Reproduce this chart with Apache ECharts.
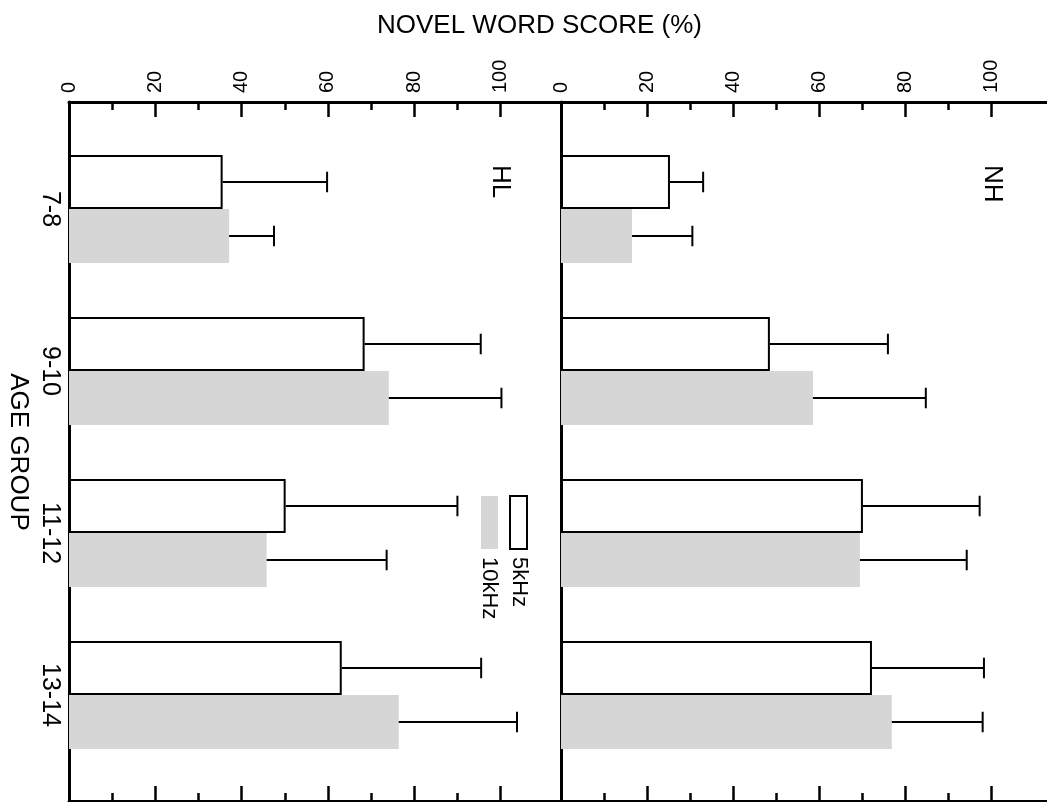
<!DOCTYPE html>
<html><head><meta charset="utf-8">
<script src="https://cdn.jsdelivr.net/npm/echarts@6/dist/echarts.min.js"></script>
<style>html,body{margin:0;padding:0;background:#fff}#c{width:1047px;height:802px}</style>
</head><body><div id="c"></div>
<script>
// ---------- data ----------
const categories = ['7-8', '9-10', '11-12', '13-14'];
const seriesNames = ['5kHz', '10kHz'];
const panelNames = ['HL', 'NH'];
const hl5kMean = [35.6, 68.5, 50.2, 63.2];
const hl5kSD   = [24.2, 26.9, 39.8, 32.3];
const hl10kMean = [37.1, 74.1, 45.8, 76.4];
const hl10kSD   = [10.4, 26.1, 27.8, 27.4];
const nh5kMean = [25.3, 48.5, 70.1, 72.2];
const nh5kSD   = [7.7, 27.4, 27.1, 26.0];
const nh10kMean = [16.5, 58.5, 69.4, 76.8];
const nh10kSD   = [14.0, 26.2, 24.8, 21.1];
const tickValues = [0, 20, 40, 60, 80, 100];
const minorTickValues = [10, 30, 50, 70, 90];
const valueAxisTitle = 'NOVEL WORD SCORE (%)';
const categoryAxisTitle = 'AGE GROUP';

// ---------- style ----------
const FONT = 'Liberation Sans';
const GRAY = '#d6d6d6';
const AXMAX = 114;
const GAP = 0.333;

const panels = [
  { name: panelNames[0], left: 69, width: 492, mean: [hl5kMean, hl10kMean], sd: [hl5kSD, hl10kSD], catLabels: true },
  { name: panelNames[1], left: 561, width: 491, mean: [nh5kMean, nh10kMean], sd: [nh5kSD, nh10kSD], catLabels: false }
];

const grid = [], xAxis = [], yAxis = [], series = [];

panels.forEach((p) => {
  const gA = grid.length;
  grid.push({ left: p.left, top: 102, width: p.width, height: 699, outerBoundsMode: 'none' });
  const gB = grid.length;
  grid.push({ left: p.left, top: 102, width: p.width, height: 699, outerBoundsMode: 'none' });
  const gC = grid.length;
  grid.push({ left: p.left, top: 128, width: p.width, height: 648, outerBoundsMode: 'none' });

  const base = { type: 'value', min: 0, max: AXMAX, splitLine: { show: false } };
  // major top with labels
  xAxis.push(Object.assign({}, base, {
    gridIndex: gA, position: 'top',
    axisLine: { show: true, onZero: false, lineStyle: { color: '#000', width: 3 } },
    axisTick: { show: true, inside: true, length: 15, customValues: tickValues, lineStyle: { color: '#000', width: 2.5 } },
    axisLabel: { show: true, customValues: tickValues, rotate: -90, margin: 9, fontSize: 20, color: '#000', fontFamily: FONT }
  }));
  // major bottom
  xAxis.push(Object.assign({}, base, {
    gridIndex: gA, position: 'bottom',
    axisLine: { show: true, onZero: false, lineStyle: { color: '#000', width: 3 } },
    axisTick: { show: true, inside: true, length: 15, customValues: tickValues, lineStyle: { color: '#000', width: 2.5 } },
    axisLabel: { show: false }
  }));
  // minor top / bottom
  xAxis.push(Object.assign({}, base, {
    gridIndex: gB, position: 'top',
    axisLine: { show: false, onZero: false },
    axisTick: { show: true, inside: true, length: 8, customValues: minorTickValues, lineStyle: { color: '#000', width: 2.5 } },
    axisLabel: { show: false }
  }));
  xAxis.push(Object.assign({}, base, {
    gridIndex: gB, position: 'bottom',
    axisLine: { show: false, onZero: false },
    axisTick: { show: true, inside: true, length: 8, customValues: minorTickValues, lineStyle: { color: '#000', width: 2.5 } },
    axisLabel: { show: false }
  }));
  const xBars = xAxis.length;
  xAxis.push(Object.assign({}, base, { gridIndex: gC, show: false, axisLine: { onZero: false } }));

  // frame vertical line
  yAxis.push({ type: 'value', gridIndex: gA, position: 'left', min: 0, max: 1,
    axisLine: { show: true, onZero: false, lineStyle: { color: '#000', width: 3 } },
    axisTick: { show: false }, axisLabel: { show: false }, splitLine: { show: false } });
  yAxis.push({ type: 'value', gridIndex: gB, show: false, min: 0, max: 1, axisLine: { onZero: false } });
  const yBars = yAxis.length;
  yAxis.push({ type: 'category', gridIndex: gC, data: categories, inverse: true,
    axisLine: { show: false, onZero: false }, axisTick: { show: false },
    axisLabel: { show: p.catLabels, rotate: -90, margin: 7, fontSize: 25, color: '#000', fontFamily: FONT },
    name: p.catLabels ? categoryAxisTitle : '', nameLocation: 'middle', nameRotate: -90, nameGap: 38,
    nameTextStyle: { fontSize: 26, color: '#000', fontFamily: FONT } });

  [0, 1].forEach((s) => {
    series.push({
      type: 'bar', name: seriesNames[s], xAxisIndex: xBars, yAxisIndex: yBars,
      data: p.mean[s], barGap: '0%', barCategoryGap: (GAP * 100) + '%',
      itemStyle: s === 0 ? { color: '#fff', borderColor: '#000', borderWidth: 2 } : { color: GRAY },
      silent: true, z: 2
    });
  });
  [0, 1].forEach((s) => {
    series.push({
      type: 'custom', xAxisIndex: xBars, yAxisIndex: yBars, z: 3, silent: true,
      encode: { x: 1, y: 0 },
      data: categories.map((c, i) => [i, p.mean[s][i], p.sd[s][i]]),
      renderItem: function (params, api) {
        const ci = api.value(0), m = api.value(1), sd = api.value(2);
        const p0 = api.coord([m, ci]);
        const p1 = api.coord([m + sd, ci]);
        const band = api.size([0, 1])[1];
        const bh = band * (1 - GAP) / 2;
        const cy = p0[1] + (s === 0 ? -bh / 2 : bh / 2);
        const cap = bh * 0.19;
        return { type: 'group', children: [
          { type: 'line', shape: { x1: p0[0], y1: cy, x2: p1[0], y2: cy }, style: { stroke: '#000', lineWidth: 2 } },
          { type: 'line', shape: { x1: p1[0], y1: cy - cap, x2: p1[0], y2: cy + cap }, style: { stroke: '#000', lineWidth: 2 } }
        ] };
      }
    });
  });
});

const chart = echarts.init(document.getElementById('c'), null, { renderer: 'canvas' });
chart.setOption({
  backgroundColor: '#fff',
  animation: false,
  title: { text: valueAxisTitle, left: 372, top: 8,
    textStyle: { fontSize: 26, fontWeight: 'normal', color: '#000', fontFamily: FONT } },
  grid, xAxis, yAxis, series,
  graphic: [
    { type: 'text', x: 992, y: 165, rotation: -Math.PI / 2,
      style: { text: panels[1].name, fontSize: 26, fontFamily: FONT, fill: '#000', textAlign: 'left', textVerticalAlign: 'middle' } },
    { type: 'text', x: 500, y: 165, rotation: -Math.PI / 2,
      style: { text: panels[0].name, fontSize: 26, fontFamily: FONT, fill: '#000', textAlign: 'left', textVerticalAlign: 'middle' } },
    { type: 'rect', shape: { x: 510, y: 496, width: 17, height: 53 },
      style: { fill: '#fff', stroke: '#000', lineWidth: 2 } },
    { type: 'rect', shape: { x: 481, y: 496, width: 17, height: 53 },
      style: { fill: GRAY } },
    { type: 'text', x: 519, y: 557, rotation: -Math.PI / 2,
      style: { text: seriesNames[0], fontSize: 22, fontFamily: FONT, fill: '#000', textAlign: 'left', textVerticalAlign: 'middle' } },
    { type: 'text', x: 489, y: 557, rotation: -Math.PI / 2,
      style: { text: seriesNames[1], fontSize: 22, fontFamily: FONT, fill: '#000', textAlign: 'left', textVerticalAlign: 'middle' } }
  ]
});
</script></body></html>
